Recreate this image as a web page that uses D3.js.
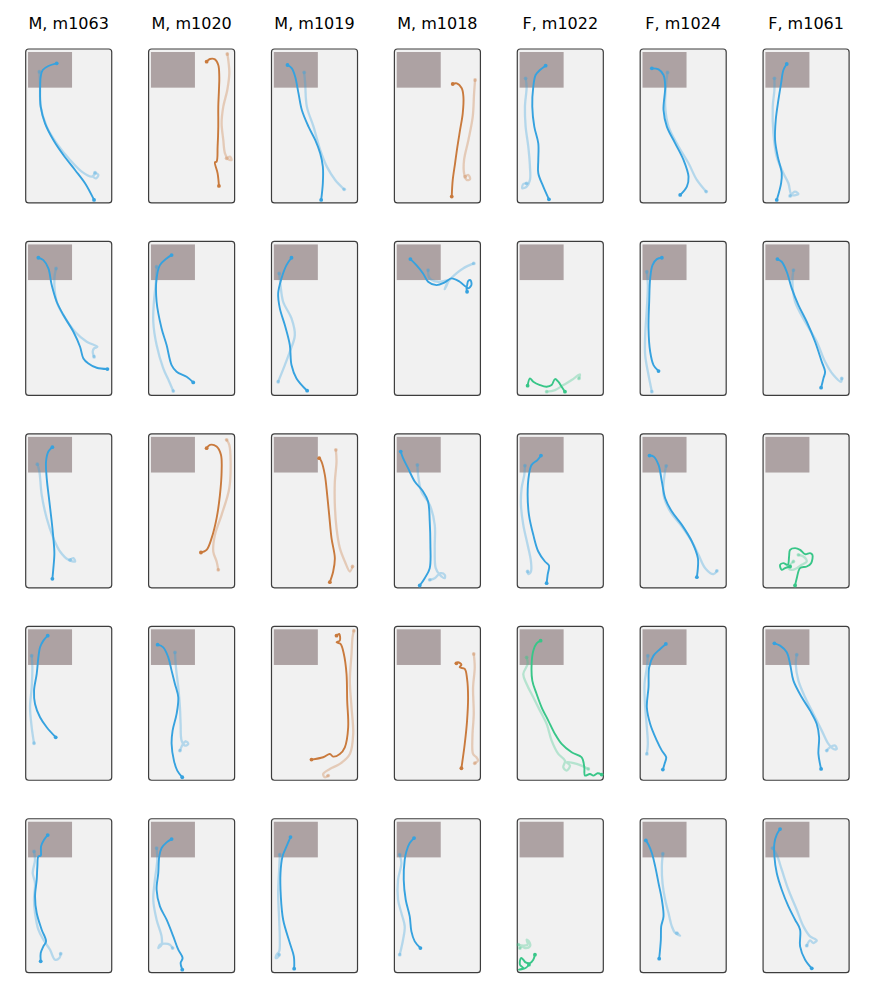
<!DOCTYPE html>
<html>
<head>
<meta charset="utf-8">
<script src="https://cdn.jsdelivr.net/npm/d3@7"></script>
<style>
  body { margin: 0; background: #fff; }
  text { font-family: "DejaVu Sans", sans-serif; }
</style>
</head>
<body>
<svg id="chart" width="875" height="1000"></svg>
<script>
// arena units: x 0..258, y 0..462 (top of arena = 0)
const mice = ["M, m1063", "M, m1020", "M, m1019", "M, m1018", "F, m1022", "F, m1024", "F, m1061"];
const trials = [1, 2, 3, 4, 5];
const arenaW = 258, arenaH = 462;
const startZone = { x0: 7, x1: 139, y0: 9, y1: 116 };

// b = blue, o = orange, g = green, per trial row
const panelColors = [
  ["b", "o", "b", "o", "b", "b", "b"],
  ["b", "b", "b", "b", "g", "b", "b"],
  ["b", "o", "o", "b", "b", "b", "g"],
  ["b", "b", "o", "o", "g", "b", "b"],
  ["b", "b", "b", "b", "g", "b", "b"]
];

// current trial track per [trial][mouse]
const tracks = [
  [
    [[93,43],[68,51],[51,63],[45,83],[43,123],[45,173],[58,223],[83,273],[113,318],[148,363],[178,403],[205,453]],
    [[174,38],[184,30],[199,31],[209,48],[212,83],[211,123],[209,173],[209,233],[207,293],[204,338],[199,340],[207,373],[211,411]],
    [[48,48],[61,58],[71,83],[81,133],[91,183],[111,233],[131,273],[146,313],[154,353],[154,403],[149,453]],
    [[175,105],[187,103],[202,118],[207,143],[205,193],[197,243],[189,293],[182,343],[175,393],[172,443]],
    [[85,50],[68,63],[55,78],[48,113],[45,173],[51,233],[63,283],[63,333],[63,373],[78,413],[95,451]],
    [[35,58],[55,61],[70,78],[75,113],[70,183],[80,233],[105,283],[130,333],[145,383],[140,413],[120,438]],
    [[71,45],[61,63],[54,103],[46,153],[38,213],[36,273],[44,323],[56,373],[54,403],[41,453]]
  ],
  [
    [[38,49],[53,56],[68,81],[78,131],[93,181],[113,221],[143,271],[163,316],[173,351],[188,366],[213,379],[245,383]],
    [[69,41],[54,51],[34,71],[24,111],[24,181],[39,261],[54,311],[69,371],[84,391],[114,406],[134,423]],
    [[60,49],[45,71],[30,111],[20,156],[25,201],[40,251],[55,311],[60,371],[75,411],[107,448]],
    [[48,53],[66,71],[86,96],[101,121],[126,131],[151,123],[171,111],[196,121],[216,136],[221,119],[228,116],[231,131],[221,141],[216,136],[218,151]],
    [[31,433],[38,411],[48,421],[68,431],[88,436],[103,431],[113,413],[123,421],[133,436],[143,451]],
    [[65,49],[50,53],[37,71],[30,111],[27,181],[25,261],[30,331],[40,371],[55,389]],
    [[43,53],[56,61],[71,91],[86,141],[106,191],[131,241],[156,301],[176,361],[186,391],[181,411],[174,439]]
  ],
  [
    [[80,40],[68,53],[61,83],[63,133],[71,203],[78,263],[83,313],[86,358],[83,403],[80,435]],
    [[174,43],[184,33],[204,38],[217,63],[219,113],[214,183],[204,253],[189,313],[174,348],[157,356]],
    [[143,73],[150,83],[160,123],[167,183],[173,243],[180,313],[190,373],[185,413],[175,445]],
    [[19,53],[26,73],[41,103],[61,143],[86,173],[101,203],[106,263],[108,333],[106,403],[91,433],[76,455]],
    [[71,65],[61,78],[43,93],[35,123],[31,183],[35,243],[48,303],[63,353],[83,383],[95,395],[91,423],[88,448]],
    [[28,65],[40,68],[55,93],[65,143],[75,193],[95,233],[125,273],[155,323],[173,373],[173,403],[170,430]],
    [[96,455],[101,433],[111,403],[131,398],[144,388],[148,363],[141,358],[126,361],[111,348],[96,343],[81,348],[78,368],[74,393],[61,388],[51,393],[56,408],[66,403],[81,398]]
  ],
  [
    [[66,28],[53,43],[43,63],[38,93],[33,143],[25,193],[28,233],[43,273],[63,303],[90,333]],
    [[27,55],[44,63],[59,93],[69,133],[79,173],[89,213],[84,263],[72,313],[69,353],[76,403],[86,433],[101,453]],
    [[195,28],[203,23],[205,43],[195,48],[207,53],[217,83],[225,143],[227,223],[230,303],[220,363],[205,383],[185,391],[175,383],[155,393],[120,400]],
    [[186,111],[191,108],[201,115],[196,123],[211,128],[218,158],[221,213],[218,283],[211,353],[201,426]],
    [[70,43],[58,51],[48,73],[43,113],[45,163],[58,203],[73,243],[93,283],[113,323],[133,353],[163,378],[193,393],[201,423],[203,448],[218,443],[228,448],[241,441],[253,445]],
    [[77,53],[60,68],[40,88],[27,123],[25,183],[20,243],[30,293],[50,343],[65,373],[78,393],[73,413],[68,430]],
    [[34,51],[51,58],[71,78],[81,113],[91,163],[116,213],[141,253],[161,293],[168,333],[166,383],[174,428]]
  ],
  [
    [[66,49],[55,63],[46,83],[45,111],[38,113],[35,143],[33,183],[28,233],[33,283],[48,333],[61,368],[53,383],[45,403],[45,428]],
    [[69,61],[54,71],[39,88],[32,113],[29,163],[24,213],[34,263],[54,303],[74,353],[89,393],[102,418],[96,433],[101,453]],
    [[57,55],[45,83],[33,113],[27,163],[28,233],[35,303],[55,373],[67,413],[68,450]],
    [[59,58],[46,73],[36,98],[31,123],[28,183],[34,243],[46,293],[51,338],[61,368],[78,388]],
    [[53,408],[48,423],[38,433],[25,431],[18,423],[11,418],[8,438],[18,448],[5,453],[25,448],[35,438]],
    [[17,65],[25,78],[35,103],[45,143],[55,193],[65,243],[70,293],[63,323],[62,363],[57,420]],
    [[51,31],[41,48],[34,73],[34,113],[41,163],[56,213],[76,263],[96,303],[111,333],[111,383],[126,423],[146,449]]
  ]
];

// previous trial track (drawn faint)
const tracksPrev = [
  [
    [[41,68],[43,103],[45,173],[63,233],[93,283],[133,333],[168,368],[198,383],[211,373],[218,378],[211,388],[203,383],[208,371]],
    [[236,15],[239,33],[242,73],[236,123],[224,173],[219,223],[224,273],[229,313],[239,331],[249,333],[244,323],[234,328]],
    [[98,70],[101,103],[106,173],[126,233],[146,303],[166,353],[191,393],[218,421]],
    [[242,93],[239,133],[235,203],[222,273],[209,333],[209,373],[217,393],[227,391],[222,378],[212,383]],
    [[25,88],[28,113],[23,173],[25,233],[33,293],[38,353],[38,393],[28,413],[15,418],[18,405],[28,403]],
    [[82,70],[78,103],[75,173],[85,233],[115,293],[145,343],[170,393],[198,428]],
    [[34,88],[34,123],[29,173],[31,253],[41,323],[61,373],[76,403],[86,438],[106,435],[96,428],[81,441]]
  ],
  [
    [[91,81],[86,111],[93,181],[113,221],[148,271],[183,301],[215,316],[205,321],[201,331],[205,346]],
    [[24,76],[22,121],[16,181],[14,241],[24,311],[44,381],[62,421],[74,449]],
    [[23,96],[27,131],[35,181],[60,231],[70,281],[55,331],[40,371],[20,421]],
    [[101,86],[106,111],[131,121],[161,118],[151,143],[161,121],[186,96],[206,81],[238,66]],
    [[88,451],[113,446],[138,431],[163,416],[188,399],[185,411]],
    [[20,91],[23,131],[20,201],[15,281],[15,341],[25,401],[35,451]],
    [[91,86],[88,121],[96,181],[126,241],[161,301],[186,361],[211,401],[234,421],[236,411]]
  ],
  [
    [[35,91],[41,113],[48,183],[63,253],[83,313],[103,353],[128,378],[148,383],[143,373],[133,378]],
    [[234,18],[242,33],[246,83],[242,163],[219,243],[199,303],[194,353],[204,383],[209,408]],
    [[193,48],[195,83],[190,143],[190,213],[195,283],[205,343],[220,383],[235,413],[243,398]],
    [[69,93],[71,123],[81,173],[106,213],[121,273],[121,343],[124,403],[136,423],[151,433],[151,423],[138,418],[121,433],[106,438]],
    [[23,95],[21,123],[13,163],[11,213],[18,273],[31,333],[41,383],[41,413],[33,421],[31,413]],
    [[78,96],[73,123],[70,183],[90,233],[125,278],[155,323],[175,363],[195,403],[220,421],[230,411]],
    [[106,363],[121,368],[131,383],[116,393],[101,403],[86,408],[76,401],[91,383]]
  ],
  [
    [[18,88],[20,123],[18,183],[13,243],[18,303],[25,351]],
    [[79,78],[82,123],[89,183],[94,243],[96,293],[99,343],[109,358],[119,353],[112,345],[102,355],[94,373]],
    [[247,13],[243,33],[240,83],[235,163],[240,243],[245,323],[235,383],[205,413],[175,428],[155,443],[160,453],[170,448]],
    [[238,83],[241,123],[236,183],[238,263],[234,333],[236,383],[246,393],[251,403],[241,411]],
    [[28,93],[31,113],[18,143],[28,173],[48,213],[68,253],[88,293],[103,343],[123,383],[143,403],[138,423],[148,433],[158,418],[148,408],[178,413],[213,428]],
    [[23,88],[20,123],[13,173],[15,243],[20,303],[23,353],[20,383]],
    [[101,85],[98,113],[106,163],[126,213],[151,263],[176,313],[196,353],[211,368],[221,368],[216,358],[201,363],[191,373]]
  ],
  [
    [[25,98],[28,123],[21,163],[28,193],[25,243],[28,283],[38,333],[53,363],[73,393],[88,423],[101,418],[105,405]],
    [[24,88],[26,123],[19,183],[14,243],[24,303],[39,353],[39,378],[29,388],[34,378],[49,375],[64,378],[72,388]],
    [[25,108],[23,153],[20,223],[23,303],[25,363],[23,398],[15,408],[13,418],[20,415],[23,408]],
    [[16,108],[21,133],[11,183],[11,243],[21,283],[31,323],[26,363],[16,408]],
    [[3,378],[18,381],[31,378],[28,363],[35,368],[38,383],[23,388],[13,383],[8,388]],
    [[68,105],[65,143],[67,193],[75,243],[85,283],[95,323],[105,343],[120,351],[110,343]],
    [[28,88],[41,108],[56,153],[76,213],[101,273],[121,323],[141,353],[156,361],[161,365],[151,373],[141,365],[131,381]]
  ]
];

const colorMap = { b: "#36a2df", o: "#c97a3d", g: "#38c688" };

const svg = d3.select("#chart");

const colBand = d3.scaleBand().domain(d3.range(mice.length)).range([25.7, 849.1]).paddingInner(0.3);
const rowBand = d3.scaleBand().domain(d3.range(trials.length)).range([49, 972.7]).paddingInner(0.2);

// titles
svg.selectAll(".title")
  .data(mice)
  .enter()
  .append("text")
  .attr("class", "title")
  .attr("x", (d, i) => colBand(i) + colBand.bandwidth() / 2)
  .attr("y", 28.5)
  .attr("text-anchor", "middle")
  .attr("font-size", 16)
  .attr("fill", "#000")
  .text(d => d);

trials.forEach((t, r) => {
  mice.forEach((m, c) => {
    const x = d3.scaleLinear().domain([0, arenaW]).range([colBand(c), colBand(c) + colBand.bandwidth()]);
    const y = d3.scaleLinear().domain([0, arenaH]).range([rowBand(r), rowBand(r) + rowBand.bandwidth()]);
    const g = svg.append("g");
    const col = colorMap[panelColors[r][c]];

    g.append("rect")
      .attr("x", x(0)).attr("y", y(0))
      .attr("width", x(arenaW) - x(0)).attr("height", y(arenaH) - y(0))
      .attr("rx", 3).attr("ry", 3)
      .attr("fill", "#f1f1f1")
      .attr("stroke", "#3d3d3d")
      .attr("stroke-width", 1.2);

    g.append("rect")
      .attr("x", x(startZone.x0)).attr("y", y(startZone.y0))
      .attr("width", x(startZone.x1) - x(startZone.x0))
      .attr("height", y(startZone.y1) - y(startZone.y0))
      .attr("fill", "#ada2a3");

    const line = d3.line()
      .x(d => x(d[0]))
      .y(d => y(d[1]))
      .curve(d3.curveCatmullRom.alpha(0.5));

    const drawTrack = (pts, op, w) => {
      g.append("path")
        .datum(pts)
        .attr("d", line)
        .attr("fill", "none")
        .attr("stroke", col)
        .attr("stroke-opacity", op)
        .attr("stroke-width", w)
        .attr("stroke-linecap", "round")
        .attr("stroke-linejoin", "round");
      g.selectAll(null)
        .data([pts[0], pts[pts.length - 1]])
        .enter()
        .append("circle")
        .attr("cx", d => x(d[0]))
        .attr("cy", d => y(d[1]))
        .attr("r", 1.9)
        .attr("fill", col)
        .attr("fill-opacity", op);
    };

    drawTrack(tracksPrev[r][c], 0.32, 2.3);
    drawTrack(tracks[r][c], 1, 1.9);
  });
});
</script>
</body>
</html>
